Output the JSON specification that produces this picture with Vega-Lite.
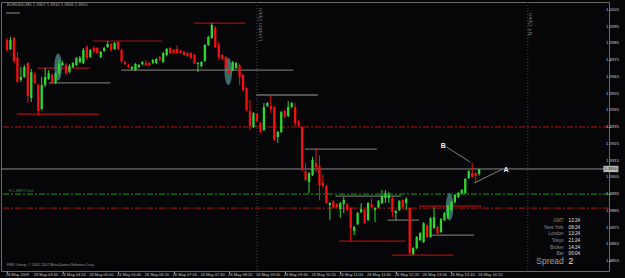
{
"$schema": "https://vega.github.io/schema/vega-lite/v6.json",
"width": 608, "height": 269, "autosize": "none",
"padding": {"left": 1, "top": 2, "right": 16, "bottom": 7},
"background": "#060608",
"config": {"view": {"stroke": "#6a6a6a", "fill": "#060608"}, "text": {"font": "Liberation Sans"}},
"datasets": {
"candles": [
{"t":"2009-05-26T03:00","o":1.39871,"h":1.39883,"l":1.39799,"c":1.39811},
{"t":"2009-05-26T03:05","o":1.39817,"h":1.39889,"l":1.39811,"c":1.39871},
{"t":"2009-05-26T03:10","o":1.39883,"h":1.39889,"l":1.39733,"c":1.39745},
{"t":"2009-05-26T03:15","o":1.39763,"h":1.39799,"l":1.39614,"c":1.39620},
{"t":"2009-05-26T03:20","o":1.39632,"h":1.39709,"l":1.39620,"c":1.39650},
{"t":"2009-05-26T03:25","o":1.39650,"h":1.39721,"l":1.39644,"c":1.39709},
{"t":"2009-05-26T03:30","o":1.39733,"h":1.39739,"l":1.39494,"c":1.39536},
{"t":"2009-05-26T03:35","o":1.39524,"h":1.39697,"l":1.39500,"c":1.39679},
{"t":"2009-05-26T03:40","o":1.39667,"h":1.39679,"l":1.39608,"c":1.39614},
{"t":"2009-05-26T03:45","o":1.39602,"h":1.39608,"l":1.39422,"c":1.39446},
{"t":"2009-05-26T03:50","o":1.39458,"h":1.39650,"l":1.39452,"c":1.39602},
{"t":"2009-05-26T03:55","o":1.39602,"h":1.39703,"l":1.39590,"c":1.39650},
{"t":"2009-05-26T04:00","o":1.39638,"h":1.39691,"l":1.39632,"c":1.39673},
{"t":"2009-05-26T04:05","o":1.39662,"h":1.39673,"l":1.39608,"c":1.39614},
{"t":"2009-05-26T04:10","o":1.39614,"h":1.39679,"l":1.39608,"c":1.39673},
{"t":"2009-05-26T04:15","o":1.39673,"h":1.39751,"l":1.39662,"c":1.39727},
{"t":"2009-05-26T04:20","o":1.39721,"h":1.39745,"l":1.39715,"c":1.39733},
{"t":"2009-05-26T04:25","o":1.39721,"h":1.39733,"l":1.39662,"c":1.39673},
{"t":"2009-05-26T04:30","o":1.39679,"h":1.39727,"l":1.39673,"c":1.39715},
{"t":"2009-05-26T04:35","o":1.39709,"h":1.39739,"l":1.39703,"c":1.39733},
{"t":"2009-05-26T04:40","o":1.39721,"h":1.39769,"l":1.39715,"c":1.39763},
{"t":"2009-05-26T04:45","o":1.39739,"h":1.39775,"l":1.39733,"c":1.39763},
{"t":"2009-05-26T04:50","o":1.39733,"h":1.39823,"l":1.39727,"c":1.39811},
{"t":"2009-05-26T04:55","o":1.39829,"h":1.39841,"l":1.39751,"c":1.39763},
{"t":"2009-05-26T05:00","o":1.39769,"h":1.39817,"l":1.39763,"c":1.39811},
{"t":"2009-05-26T05:05","o":1.39823,"h":1.39835,"l":1.39793,"c":1.39805},
{"t":"2009-05-26T05:10","o":1.39823,"h":1.39829,"l":1.39787,"c":1.39793},
{"t":"2009-05-26T05:15","o":1.39769,"h":1.39805,"l":1.39763,"c":1.39799},
{"t":"2009-05-26T05:20","o":1.39805,"h":1.39829,"l":1.39799,"c":1.39823},
{"t":"2009-05-26T05:25","o":1.39829,"h":1.39865,"l":1.39823,"c":1.39847},
{"t":"2009-05-26T05:30","o":1.39847,"h":1.39853,"l":1.39799,"c":1.39811},
{"t":"2009-05-26T05:35","o":1.39817,"h":1.39859,"l":1.39811,"c":1.39853},
{"t":"2009-05-26T05:40","o":1.39859,"h":1.39865,"l":1.39811,"c":1.39817},
{"t":"2009-05-26T05:45","o":1.39811,"h":1.39817,"l":1.39733,"c":1.39745},
{"t":"2009-05-26T05:50","o":1.39739,"h":1.39745,"l":1.39721,"c":1.39727},
{"t":"2009-05-26T05:55","o":1.39721,"h":1.39727,"l":1.39703,"c":1.39709},
{"t":"2009-05-26T06:00","o":1.39697,"h":1.39715,"l":1.39691,"c":1.39709},
{"t":"2009-05-26T06:05","o":1.39691,"h":1.39733,"l":1.39685,"c":1.39727},
{"t":"2009-05-26T06:10","o":1.39709,"h":1.39727,"l":1.39703,"c":1.39721},
{"t":"2009-05-26T06:15","o":1.39727,"h":1.39745,"l":1.39721,"c":1.39739},
{"t":"2009-05-26T06:20","o":1.39733,"h":1.39751,"l":1.39715,"c":1.39721},
{"t":"2009-05-26T06:25","o":1.39733,"h":1.39739,"l":1.39715,"c":1.39721},
{"t":"2009-05-26T06:30","o":1.39733,"h":1.39757,"l":1.39727,"c":1.39751},
{"t":"2009-05-26T06:35","o":1.39733,"h":1.39763,"l":1.39727,"c":1.39757},
{"t":"2009-05-26T06:40","o":1.39769,"h":1.39775,"l":1.39745,"c":1.39757},
{"t":"2009-05-26T06:45","o":1.39739,"h":1.39799,"l":1.39733,"c":1.39793},
{"t":"2009-05-26T06:50","o":1.39781,"h":1.39823,"l":1.39775,"c":1.39817},
{"t":"2009-05-26T06:55","o":1.39823,"h":1.39829,"l":1.39787,"c":1.39793},
{"t":"2009-05-26T07:00","o":1.39811,"h":1.39817,"l":1.39787,"c":1.39793},
{"t":"2009-05-26T07:05","o":1.39817,"h":1.39841,"l":1.39787,"c":1.39793},
{"t":"2009-05-26T07:10","o":1.39805,"h":1.39811,"l":1.39787,"c":1.39793},
{"t":"2009-05-26T07:15","o":1.39799,"h":1.39805,"l":1.39775,"c":1.39781},
{"t":"2009-05-26T07:20","o":1.39793,"h":1.39799,"l":1.39769,"c":1.39775},
{"t":"2009-05-26T07:25","o":1.39793,"h":1.39799,"l":1.39757,"c":1.39763},
{"t":"2009-05-26T07:30","o":1.39781,"h":1.39787,"l":1.39727,"c":1.39733},
{"t":"2009-05-26T07:35","o":1.39727,"h":1.39739,"l":1.39679,"c":1.39733},
{"t":"2009-05-26T07:40","o":1.39715,"h":1.39745,"l":1.39709,"c":1.39739},
{"t":"2009-05-26T07:45","o":1.39745,"h":1.39847,"l":1.39739,"c":1.39841},
{"t":"2009-05-26T07:50","o":1.39841,"h":1.39895,"l":1.39835,"c":1.39889},
{"t":"2009-05-26T07:55","o":1.39883,"h":1.39972,"l":1.39877,"c":1.39961},
{"t":"2009-05-26T08:00","o":1.39943,"h":1.39955,"l":1.39823,"c":1.39829},
{"t":"2009-05-26T08:05","o":1.39841,"h":1.39859,"l":1.39751,"c":1.39769},
{"t":"2009-05-26T08:10","o":1.39781,"h":1.39787,"l":1.39751,"c":1.39757},
{"t":"2009-05-26T08:15","o":1.39769,"h":1.39775,"l":1.39697,"c":1.39703},
{"t":"2009-05-26T08:20","o":1.39691,"h":1.39703,"l":1.39667,"c":1.39673},
{"t":"2009-05-26T08:25","o":1.39691,"h":1.39745,"l":1.39685,"c":1.39739},
{"t":"2009-05-26T08:30","o":1.39703,"h":1.39739,"l":1.39697,"c":1.39733},
{"t":"2009-05-26T08:35","o":1.39721,"h":1.39727,"l":1.39602,"c":1.39650},
{"t":"2009-05-26T08:40","o":1.39662,"h":1.39667,"l":1.39566,"c":1.39572},
{"t":"2009-05-26T08:45","o":1.39584,"h":1.39590,"l":1.39446,"c":1.39452},
{"t":"2009-05-26T08:50","o":1.39446,"h":1.39512,"l":1.39333,"c":1.39357},
{"t":"2009-05-26T08:55","o":1.39351,"h":1.39440,"l":1.39345,"c":1.39434},
{"t":"2009-05-26T09:00","o":1.39428,"h":1.39434,"l":1.39380,"c":1.39386},
{"t":"2009-05-26T09:05","o":1.39374,"h":1.39380,"l":1.39315,"c":1.39321},
{"t":"2009-05-26T09:10","o":1.39333,"h":1.39494,"l":1.39327,"c":1.39470},
{"t":"2009-05-26T09:15","o":1.39476,"h":1.39500,"l":1.39470,"c":1.39494},
{"t":"2009-05-26T09:20","o":1.39476,"h":1.39536,"l":1.39434,"c":1.39458},
{"t":"2009-05-26T09:25","o":1.39470,"h":1.39476,"l":1.39267,"c":1.39273},
{"t":"2009-05-26T09:30","o":1.39291,"h":1.39327,"l":1.39255,"c":1.39321},
{"t":"2009-05-26T09:35","o":1.39321,"h":1.39446,"l":1.39315,"c":1.39440},
{"t":"2009-05-26T09:40","o":1.39446,"h":1.39452,"l":1.39404,"c":1.39410},
{"t":"2009-05-26T09:45","o":1.39416,"h":1.39506,"l":1.39410,"c":1.39470},
{"t":"2009-05-26T09:50","o":1.39470,"h":1.39500,"l":1.39464,"c":1.39494},
{"t":"2009-05-26T09:55","o":1.39470,"h":1.39494,"l":1.39357,"c":1.39374},
{"t":"2009-05-26T10:00","o":1.39386,"h":1.39392,"l":1.39351,"c":1.39357},
{"t":"2009-05-26T10:05","o":1.39351,"h":1.39357,"l":1.39087,"c":1.39093},
{"t":"2009-05-26T10:10","o":1.39087,"h":1.39135,"l":1.39028,"c":1.39034},
{"t":"2009-05-26T10:15","o":1.39022,"h":1.39081,"l":1.38956,"c":1.39075},
{"t":"2009-05-26T10:20","o":1.39064,"h":1.39171,"l":1.39058,"c":1.39153},
{"t":"2009-05-26T10:25","o":1.39135,"h":1.39225,"l":1.39081,"c":1.39111},
{"t":"2009-05-26T10:30","o":1.39117,"h":1.39183,"l":1.38914,"c":1.39004},
{"t":"2009-05-26T10:35","o":1.39016,"h":1.39064,"l":1.38986,"c":1.38998},
{"t":"2009-05-26T10:40","o":1.38998,"h":1.39004,"l":1.38890,"c":1.38896},
{"t":"2009-05-26T10:45","o":1.38884,"h":1.38902,"l":1.38794,"c":1.38896},
{"t":"2009-05-26T10:50","o":1.38908,"h":1.38914,"l":1.38866,"c":1.38872},
{"t":"2009-05-26T10:55","o":1.38890,"h":1.38896,"l":1.38866,"c":1.38872},
{"t":"2009-05-26T11:00","o":1.38860,"h":1.38902,"l":1.38806,"c":1.38896},
{"t":"2009-05-26T11:05","o":1.38890,"h":1.38932,"l":1.38836,"c":1.38914},
{"t":"2009-05-26T11:10","o":1.38890,"h":1.38896,"l":1.38848,"c":1.38854},
{"t":"2009-05-26T11:15","o":1.38866,"h":1.38872,"l":1.38663,"c":1.38747},
{"t":"2009-05-26T11:20","o":1.38729,"h":1.38759,"l":1.38705,"c":1.38753},
{"t":"2009-05-26T11:25","o":1.38770,"h":1.38842,"l":1.38765,"c":1.38836},
{"t":"2009-05-26T11:30","o":1.38842,"h":1.38896,"l":1.38836,"c":1.38860},
{"t":"2009-05-26T11:35","o":1.38854,"h":1.38860,"l":1.38770,"c":1.38776},
{"t":"2009-05-26T11:40","o":1.38794,"h":1.38902,"l":1.38788,"c":1.38896},
{"t":"2009-05-26T11:45","o":1.38890,"h":1.38926,"l":1.38866,"c":1.38872},
{"t":"2009-05-26T11:50","o":1.38854,"h":1.38872,"l":1.38782,"c":1.38866},
{"t":"2009-05-26T11:55","o":1.38872,"h":1.38914,"l":1.38866,"c":1.38908},
{"t":"2009-05-26T12:00","o":1.38896,"h":1.38974,"l":1.38890,"c":1.38938},
{"t":"2009-05-26T12:05","o":1.38926,"h":1.38974,"l":1.38896,"c":1.38956},
{"t":"2009-05-26T12:10","o":1.38926,"h":1.38962,"l":1.38896,"c":1.38944},
{"t":"2009-05-26T12:15","o":1.38926,"h":1.38932,"l":1.38812,"c":1.38842},
{"t":"2009-05-26T12:20","o":1.38836,"h":1.38854,"l":1.38794,"c":1.38848},
{"t":"2009-05-26T12:25","o":1.38854,"h":1.38914,"l":1.38848,"c":1.38908},
{"t":"2009-05-26T12:30","o":1.38914,"h":1.38920,"l":1.38866,"c":1.38872},
{"t":"2009-05-26T12:35","o":1.38896,"h":1.38932,"l":1.38854,"c":1.38920},
{"t":"2009-05-26T12:40","o":1.38866,"h":1.38872,"l":1.38585,"c":1.38597},
{"t":"2009-05-26T12:45","o":1.38591,"h":1.38633,"l":1.38585,"c":1.38627},
{"t":"2009-05-26T12:50","o":1.38627,"h":1.38699,"l":1.38621,"c":1.38693},
{"t":"2009-05-26T12:55","o":1.38675,"h":1.38723,"l":1.38669,"c":1.38717},
{"t":"2009-05-26T13:00","o":1.38663,"h":1.38782,"l":1.38657,"c":1.38776},
{"t":"2009-05-26T13:05","o":1.38765,"h":1.38770,"l":1.38687,"c":1.38693},
{"t":"2009-05-26T13:10","o":1.38693,"h":1.38812,"l":1.38687,"c":1.38806},
{"t":"2009-05-26T13:15","o":1.38747,"h":1.38872,"l":1.38741,"c":1.38812},
{"t":"2009-05-26T13:20","o":1.38753,"h":1.38759,"l":1.38711,"c":1.38717},
{"t":"2009-05-26T13:25","o":1.38723,"h":1.38806,"l":1.38717,"c":1.38800},
{"t":"2009-05-26T13:30","o":1.38794,"h":1.38842,"l":1.38788,"c":1.38836},
{"t":"2009-05-26T13:35","o":1.38806,"h":1.38884,"l":1.38800,"c":1.38878},
{"t":"2009-05-26T13:40","o":1.38854,"h":1.38908,"l":1.38848,"c":1.38902},
{"t":"2009-05-26T13:45","o":1.38902,"h":1.38950,"l":1.38896,"c":1.38944},
{"t":"2009-05-26T13:50","o":1.38932,"h":1.38962,"l":1.38926,"c":1.38956},
{"t":"2009-05-26T13:55","o":1.38956,"h":1.38980,"l":1.38950,"c":1.38974},
{"t":"2009-05-26T14:00","o":1.38956,"h":1.39046,"l":1.38950,"c":1.39040},
{"t":"2009-05-26T14:05","o":1.39046,"h":1.39093,"l":1.39040,"c":1.39087},
{"t":"2009-05-26T14:10","o":1.39075,"h":1.39135,"l":1.39046,"c":1.39052},
{"t":"2009-05-26T14:15","o":1.39075,"h":1.39081,"l":1.39016,"c":1.39058},
{"t":"2009-05-26T14:20","o":1.39070,"h":1.39100,"l":1.39060,"c":1.39100}
],
"xlabels": [
{"t":"2009-05-26T03:00","lab":"26 May 2009"},
{"t":"2009-05-26T03:40","lab":"26 May 03:40"},
{"t":"2009-05-26T04:20","lab":"26 May 04:20"},
{"t":"2009-05-26T05:00","lab":"26 May 05:00"},
{"t":"2009-05-26T05:40","lab":"26 May 05:40"},
{"t":"2009-05-26T06:20","lab":"26 May 06:20"},
{"t":"2009-05-26T07:00","lab":"26 May 07:00"},
{"t":"2009-05-26T07:40","lab":"26 May 07:40"},
{"t":"2009-05-26T08:20","lab":"26 May 08:20"},
{"t":"2009-05-26T09:00","lab":"26 May 09:00"},
{"t":"2009-05-26T09:40","lab":"26 May 09:40"},
{"t":"2009-05-26T10:20","lab":"26 May 10:20"},
{"t":"2009-05-26T11:00","lab":"26 May 11:00"},
{"t":"2009-05-26T11:40","lab":"26 May 11:40"},
{"t":"2009-05-26T12:20","lab":"26 May 12:20"},
{"t":"2009-05-26T13:00","lab":"26 May 13:00"},
{"t":"2009-05-26T13:40","lab":"26 May 13:40"},
{"t":"2009-05-26T14:20","lab":"26 May 14:20"}
],
"ylabels": [
{"p":1.3855},{"p":1.3865},{"p":1.3875},{"p":1.3885},{"p":1.3895},{"p":1.3905},{"p":1.3915},{"p":1.3925},
{"p":1.3935},{"p":1.3945},{"p":1.3955},{"p":1.3965},{"p":1.3975},{"p":1.3985},{"p":1.3995},{"p":1.4005}
],
"segs": [
{"t":"2009-05-26T02:58:40","t2":"2009-05-26T03:18:24","p":1.40032,"grp":"range"},
{"t":"2009-05-26T05:03:12","t2":"2009-05-26T06:43:48","p":1.39865,"grp":"level"},
{"t":"2009-05-26T07:29:06","t2":"2009-05-26T08:42:48","p":1.39972,"grp":"level"},
{"t":"2009-05-26T03:43:54","t2":"2009-05-26T04:59:00","p":1.39703,"grp":"level"},
{"t":"2009-05-26T04:00:30","t2":"2009-05-26T05:28:42","p":1.39614,"grp":"range"},
{"t":"2009-05-26T03:14:12","t2":"2009-05-26T05:13:06","p":1.39428,"grp":"level"},
{"t":"2009-05-26T05:44:18","t2":"2009-05-26T09:52:12","p":1.39691,"grp":"range"},
{"t":"2009-05-26T08:58:18","t2":"2009-05-26T10:27:36","p":1.39542,"grp":"range"},
{"t":"2009-05-26T10:09:12","t2":"2009-05-26T11:52:36","p":1.39219,"grp":"range"},
{"t":"2009-05-26T10:53:06","t2":"2009-05-26T12:28:00","p":1.38938,"grp":"range"},
{"t":"2009-05-26T10:58:42","t2":"2009-05-26T12:33:36","p":1.38669,"grp":"level"},
{"t":"2009-05-26T12:08:06","t2":"2009-05-26T12:53:24","p":1.38794,"grp":"range"},
{"t":"2009-05-26T12:13:48","t2":"2009-05-26T13:43:00","p":1.38585,"grp":"level"},
{"t":"2009-05-26T12:53:24","t2":"2009-05-26T14:22:42","p":1.38878,"grp":"level"},
{"t":"2009-05-26T13:09:00","t2":"2009-05-26T14:12:48","p":1.38705,"grp":"range"}
],
"ellipses": [
{"t":"2009-05-26T04:13:42","p":1.39709},
{"t":"2009-05-26T08:18:42","p":1.39682},
{"t":"2009-05-26T13:37:24","p":1.38872}
],
"sessions": [
{"t":"2009-05-26T09:00","lt":"2009-05-26T09:04:24","lp":1.40062,"name":"London Open"},
{"t":"2009-05-26T15:30","lt":"2009-05-26T15:33:30","lp":1.40032,"name":"NY Open"}
],
"arrows": [
{"t":"2009-05-26T13:33:06","p":1.39231,"t2":"2009-05-26T14:07:06","p2":1.39141,"name":"B","lt":"2009-05-26T13:28:18","lp":1.39240},
{"t":"2009-05-26T14:53:54","p":1.39099,"t2":"2009-05-26T14:12:48","p2":1.39016,"name":"A","lt":"2009-05-26T14:58:48","lp":1.39096}
],
"clock": [
{"name":"GMT","value":"12:24","p":1.38788},
{"name":"New York","value":"08:24","p":1.38747},
{"name":"London","value":"13:24","p":1.38711},
{"name":"Tokyo","value":"21:24","p":1.38669},
{"name":"Broker","value":"14:24","p":1.38627},
{"name":"Bar","value":"00:04","p":1.38591}
]
},
"layer": [
{"data": {"values": [{"p": 1.39351}, {"p": 1.38866}]},
 "mark": {"type": "rule", "color": "#b31212", "strokeWidth": 1, "strokeDash": [6, 2, 2, 2]},
 "encoding": {"y": {"field": "p", "type": "quantitative"}}},
{"data": {"values": [{"p": 1.38950}]},
 "mark": {"type": "rule", "color": "#1f9a1f", "strokeWidth": 1, "strokeDash": [6, 2, 2, 2]},
 "encoding": {"y": {"field": "p", "type": "quantitative"}}},
{"data": {"values": [{"p": 1.39100}]},
 "mark": {"type": "rule", "color": "#8a8a8a", "strokeWidth": 1},
 "encoding": {"y": {"field": "p", "type": "quantitative"}}},
{"data": {"name": "segs"}, "transform": [{"filter": "datum.grp == 'level'"}],
 "mark": {"type": "rule", "color": "#a31010", "strokeWidth": 1.2},
 "encoding": {"x": {"field": "t", "type": "temporal"}, "x2": {"field": "t2"}, "y": {"field": "p", "type": "quantitative"}}},
{"data": {"name": "segs"}, "transform": [{"filter": "datum.grp == 'range'"}],
 "mark": {"type": "rule", "color": "#6e6e6e", "strokeWidth": 1.3},
 "encoding": {"x": {"field": "t", "type": "temporal"}, "x2": {"field": "t2"}, "y": {"field": "p", "type": "quantitative"}}},
{"data": {"name": "sessions"},
 "mark": {"type": "rule", "color": "#4a4a4a", "strokeWidth": 1, "strokeDash": [1, 2]},
 "encoding": {"x": {"field": "t", "type": "temporal"}}},
{"data": {"name": "sessions"},
 "mark": {"type": "text", "angle": 270, "align": "right", "baseline": "middle", "fontSize": 5.5, "color": "#6e6e6e"},
 "encoding": {"x": {"field": "lt", "type": "temporal"}, "y": {"field": "lp", "type": "quantitative"}, "text": {"field": "name"}}},
{"data": {"name": "ellipses"},
 "mark": {"type": "point", "filled": true, "shape": "M0,-1A0.28,1,0,1,1,0,1A0.28,1,0,1,1,0,-1Z", "size": 729, "color": "#4d8c8c", "opacity": 0.75, "strokeWidth": 0},
 "encoding": {"x": {"field": "t", "type": "temporal"}, "y": {"field": "p", "type": "quantitative"}}},
{"data": {"name": "candles"},
 "mark": {"type": "rule", "strokeWidth": 1},
 "encoding": {
  "x": {"field": "t", "type": "temporal",
   "scale": {"domain": [{"year": 2009, "month": 5, "date": 26, "hours": 2, "minutes": 58, "seconds": 35}, {"year": 2009, "month": 5, "date": 26, "hours": 17, "minutes": 19, "seconds": 47}]},
   "axis": {"orient": "bottom", "grid": false, "domain": false, "ticks": true, "tickSize": 2, "tickColor": "#9a9a9a", "labels": false, "title": null,
    "values": [
     {"year": 2009, "month": 5, "date": 26, "hours": 3, "minutes": 0},
     {"year": 2009, "month": 5, "date": 26, "hours": 3, "minutes": 40},
     {"year": 2009, "month": 5, "date": 26, "hours": 4, "minutes": 20},
     {"year": 2009, "month": 5, "date": 26, "hours": 5, "minutes": 0},
     {"year": 2009, "month": 5, "date": 26, "hours": 5, "minutes": 40},
     {"year": 2009, "month": 5, "date": 26, "hours": 6, "minutes": 20},
     {"year": 2009, "month": 5, "date": 26, "hours": 7, "minutes": 0},
     {"year": 2009, "month": 5, "date": 26, "hours": 7, "minutes": 40},
     {"year": 2009, "month": 5, "date": 26, "hours": 8, "minutes": 20},
     {"year": 2009, "month": 5, "date": 26, "hours": 9, "minutes": 0},
     {"year": 2009, "month": 5, "date": 26, "hours": 9, "minutes": 40},
     {"year": 2009, "month": 5, "date": 26, "hours": 10, "minutes": 20},
     {"year": 2009, "month": 5, "date": 26, "hours": 11, "minutes": 0},
     {"year": 2009, "month": 5, "date": 26, "hours": 11, "minutes": 40},
     {"year": 2009, "month": 5, "date": 26, "hours": 12, "minutes": 20},
     {"year": 2009, "month": 5, "date": 26, "hours": 13, "minutes": 0},
     {"year": 2009, "month": 5, "date": 26, "hours": 13, "minutes": 40},
     {"year": 2009, "month": 5, "date": 26, "hours": 14, "minutes": 20}]}},
  "y": {"field": "l", "type": "quantitative",
   "scale": {"domain": [1.38490, 1.40098], "zero": false, "nice": false},
   "axis": {"orient": "right", "grid": false, "domain": false, "tickSize": 1.5, "tickColor": "#9a9a9a", "labels": false, "title": null,
    "values": [1.3855, 1.3865, 1.3875, 1.3885, 1.3895, 1.3905, 1.3915, 1.3925, 1.3935, 1.3945, 1.3955, 1.3965, 1.3975, 1.3985, 1.3995, 1.4005]}},
  "y2": {"field": "h"},
  "color": {"condition": {"test": "datum.c >= datum.o", "value": "#2fd62f"}, "value": "#f21010"}}},
{"data": {"name": "candles"},
 "mark": {"type": "bar", "size": 2.3},
 "encoding": {
  "x": {"field": "t", "type": "temporal"},
  "y": {"field": "o", "type": "quantitative"},
  "y2": {"field": "c"},
  "color": {"condition": {"test": "datum.c >= datum.o", "value": "#2fd62f"}, "value": "#f21010"}}},
{"data": {"name": "xlabels"},
 "mark": {"type": "text", "clip": false, "fontSize": 4, "color": "#c8c8c8", "align": "left", "baseline": "top", "dx": -1},
 "encoding": {"x": {"field": "t", "type": "temporal"}, "y": {"datum": 1.38478, "type": "quantitative"}, "text": {"field": "lab"}}},
{"data": {"name": "ylabels"},
 "mark": {"type": "text", "clip": false, "fontSize": 4.3, "color": "#c8c8c8", "align": "left", "baseline": "middle"},
 "encoding": {"x": {"datum": {"year": 2009, "month": 5, "date": 26, "hours": 17, "minutes": 22, "seconds": 40}, "type": "temporal"}, "y": {"field": "p", "type": "quantitative"}, "text": {"field": "p", "type": "quantitative", "format": ".4f"}}},
{"data": {"name": "arrows"},
 "mark": {"type": "rule", "color": "#9a9a9a", "strokeWidth": 0.8},
 "encoding": {"x": {"field": "t", "type": "temporal"}, "x2": {"field": "t2"}, "y": {"field": "p", "type": "quantitative"}, "y2": {"field": "p2"}}},
{"data": {"name": "arrows"},
 "mark": {"type": "text", "fontSize": 7, "fontWeight": "bold", "color": "#f0f0f0", "align": "center", "baseline": "middle"},
 "encoding": {"x": {"field": "lt", "type": "temporal"}, "y": {"field": "lp", "type": "quantitative"}, "text": {"field": "name"}}},
{"data": {"name": "clock"},
 "mark": {"type": "text", "fontSize": 4.6, "color": "#8c8c8c", "align": "right", "baseline": "middle"},
 "encoding": {"x": {"datum": {"year": 2009, "month": 5, "date": 26, "hours": 16, "minutes": 21, "seconds": 42}, "type": "temporal"}, "y": {"field": "p", "type": "quantitative"}, "text": {"field": "name"}}},
{"data": {"name": "clock"},
 "mark": {"type": "text", "fontSize": 4.6, "color": "#e0e0e0", "align": "left", "baseline": "middle"},
 "encoding": {"x": {"datum": {"year": 2009, "month": 5, "date": 26, "hours": 16, "minutes": 28, "seconds": 48}, "type": "temporal"}, "y": {"field": "p", "type": "quantitative"}, "text": {"field": "value"}}},
{"data": {"values": [{"name": "Spread", "value": "2", "p": 1.38549}]},
 "mark": {"type": "text", "fontSize": 8.5, "color": "#a0a0a0", "align": "right", "baseline": "middle"},
 "encoding": {"x": {"datum": {"year": 2009, "month": 5, "date": 26, "hours": 16, "minutes": 21, "seconds": 42}, "type": "temporal"}, "y": {"field": "p", "type": "quantitative"}, "text": {"field": "name"}}},
{"data": {"values": [{"name": "Spread", "value": "2", "p": 1.38549}]},
 "mark": {"type": "text", "fontSize": 8.5, "color": "#e8e8e8", "align": "left", "baseline": "middle"},
 "encoding": {"x": {"datum": {"year": 2009, "month": 5, "date": 26, "hours": 16, "minutes": 28, "seconds": 48}, "type": "temporal"}, "y": {"field": "p", "type": "quantitative"}, "text": {"field": "value"}}},
{"data": {"values": [{"text": "EURUSD,M5  1.3907 1.3910 1.3906 1.3910", "p": 1.40083}]},
 "mark": {"type": "text", "fontSize": 4.2, "color": "#a8a8a8", "align": "left", "baseline": "middle"},
 "encoding": {"x": {"datum": {"year": 2009, "month": 5, "date": 26, "hours": 3, "minutes": 0}, "type": "temporal"}, "y": {"field": "p", "type": "quantitative"}, "text": {"field": "text"}}},
{"data": {"values": [{"text": "FIBO Group, © 2001-2007 MetaQuotes Software Corp.", "p": 1.38526}]},
 "mark": {"type": "text", "fontSize": 3.6, "color": "#9a9a9a", "align": "left", "baseline": "middle"},
 "encoding": {"x": {"datum": {"year": 2009, "month": 5, "date": 26, "hours": 3, "minutes": 0}, "type": "temporal"}, "y": {"field": "p", "type": "quantitative"}, "text": {"field": "text"}}},
{"data": {"values": [{"text": "H 1.38977 Line", "p": 1.38968}]},
 "mark": {"type": "text", "fontSize": 3.6, "color": "#3a9a3a", "align": "left", "baseline": "middle"},
 "encoding": {"x": {"datum": {"year": 2009, "month": 5, "date": 26, "hours": 3, "minutes": 3}, "type": "temporal"}, "y": {"field": "p", "type": "quantitative"}, "text": {"field": "text"}}},
{"data": {"values": [{"text": "1.3910", "p": 1.39100}]},
 "mark": {"type": "point", "filled": true, "clip": false, "shape": "M-1,-0.42L1,-0.42L1,0.42L-1,0.42Z", "size": 225, "color": "#b8b8b8", "opacity": 1, "strokeWidth": 0},
 "encoding": {"x": {"datum": {"year": 2009, "month": 5, "date": 26, "hours": 17, "minutes": 29, "seconds": 42}, "type": "temporal"}, "y": {"field": "p", "type": "quantitative"}}},
{"data": {"values": [{"text": "1.3910", "p": 1.39100}]},
 "mark": {"type": "text", "clip": false, "fontSize": 4.2, "color": "#101010", "align": "center", "baseline": "middle"},
 "encoding": {"x": {"datum": {"year": 2009, "month": 5, "date": 26, "hours": 17, "minutes": 29, "seconds": 42}, "type": "temporal"}, "y": {"field": "p", "type": "quantitative"}, "text": {"field": "text"}}}
]
}
